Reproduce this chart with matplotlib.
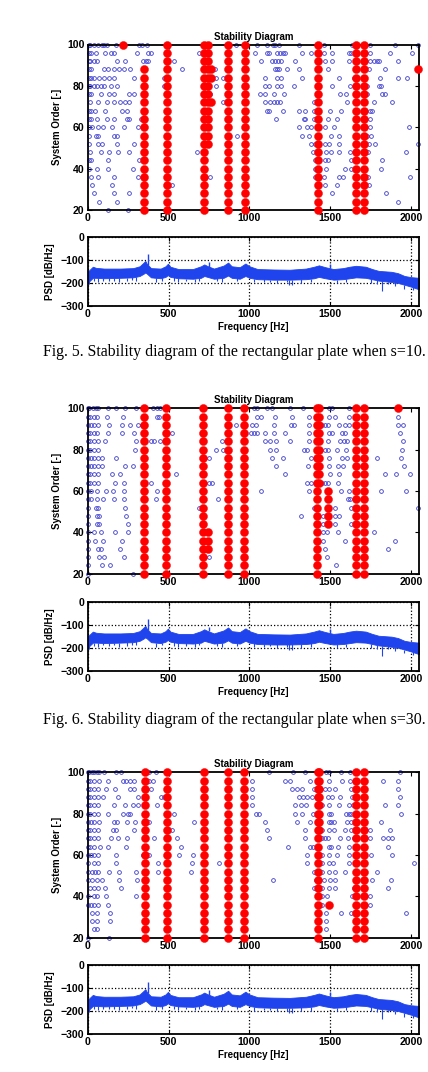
#!/usr/bin/env python3
"""Stability diagrams of the rectangular plate (s=10, s=30, s=50) with PSD strips."""

import matplotlib

matplotlib.use("Agg")

import matplotlib.pyplot as plt
import numpy as np

W, H = 428, 1072
BLUE_DOT = "#3a3ad4"
PSD_BLUE = "#1f44ee"

ORDERS = [100, 96, 92, 88, 84, 80, 76, 72, 68, 64, 60, 56, 52, 48, 44, 40, 36, 32, 28, 24, 20]

# unstable / partly stable poles (blue), one list per system order, top to bottom
S10_BLUE = [
    [4, 14, 35, 59, 84, 101, 117, 173, 317, 332, 365, 915, 1047, 1109, 1144, 1160, 1181, 1305, 1459, 1635, 1748, 1903, 2043],
    [4, 18, 49, 105, 142, 158, 301, 369, 389, 688, 1037, 1109, 1123, 1171, 1191, 1206, 1218, 1325, 1383, 1459, 1511, 1614, 1630, 1748, 1872, 2006],
    [4, 14, 35, 55, 179, 229, 338, 358, 373, 530, 1074, 1140, 1156, 1177, 1197, 1280, 1466, 1511, 1614, 1748, 1769, 1789, 1804, 1923],
    [4, 18, 97, 125, 158, 193, 224, 259, 585, 785, 1156, 1171, 1185, 1232, 1305, 1486, 1742, 1841],
    [4, 18, 39, 70, 101, 132, 163, 286, 468, 792, 839, 1098, 1171, 1197, 1325, 1556, 1645, 1810, 1923, 1975],
    [4, 14, 35, 55, 80, 101, 142, 177, 468, 792, 1094, 1123, 1171, 1197, 1274, 1511, 1624, 1727, 1800, 1816],
    [4, 18, 80, 132, 163, 255, 282, 756, 1068, 1098, 1150, 1212, 1562, 1597, 1727, 1820, 1841],
    [14, 59, 117, 158, 200, 229, 257, 839, 1098, 1129, 1150, 1171, 1191, 1397, 1604, 1769, 1882],
    [4, 18, 43, 107, 208, 241, 1109, 1123, 1206, 1305, 1346, 1397, 1501, 1569, 1748, 1762],
    [4, 18, 55, 117, 163, 241, 255, 330, 1164, 1336, 1346, 1397, 1486, 1542, 1748],
    [4, 22, 59, 90, 146, 220, 311, 1305, 1356, 1383, 1466, 1521, 1748, 1985],
    [4, 49, 64, 158, 179, 921, 1325, 1371, 1507, 1556, 1727, 1754],
    [4, 59, 84, 179, 282, 1383, 1404, 1470, 1494, 1556, 1742, 1775, 2043],
    [14, 80, 132, 187, 255, 678, 1391, 1474, 1507, 1552, 1624, 1734, 1969],
    [4, 18, 121, 317, 1404, 1466, 1486, 1630, 1820],
    [4, 55, 121, 276, 1404, 1474, 1593, 1630, 1816],
    [18, 59, 158, 311, 756, 1404, 1459, 1556, 1577, 1734, 1995],
    [22, 146, 523, 1466, 1542, 1738],
    [39, 158, 255, 1511, 1845],
    [70, 179, 1923],
    [125, 245],
]
S30_BLUE = [
    [3, 8, 29, 49, 64, 125, 173, 229, 297, 400, 426, 447, 1026, 1047, 1109, 1140, 1253, 1329, 1490, 1511, 1614],
    [3, 14, 35, 55, 117, 214, 426, 441, 1047, 1074, 1156, 1263, 1371, 1494, 1532, 1614, 1923],
    [3, 18, 39, 64, 132, 208, 262, 311, 332, 915, 1016, 1041, 1150, 1259, 1274, 1371, 1449, 1470, 1486, 1556, 1593, 1614, 1923, 1954],
    [3, 14, 35, 55, 125, 208, 282, 523, 1008, 1026, 1047, 1098, 1150, 1222, 1367, 1490, 1511, 1573, 1589, 1934],
    [3, 14, 35, 59, 105, 297, 389, 410, 447, 833, 1094, 1129, 1164, 1253, 1371, 1486, 1562, 1583, 1604, 1954],
    [3, 14, 39, 64, 290, 792, 839, 1129, 1164, 1336, 1356, 1466, 1486, 1542, 1597, 1944],
    [3, 18, 39, 59, 84, 173, 750, 1140, 1206, 1383, 1439, 1490, 1573, 1604, 1789, 1940],
    [3, 18, 39, 64, 84, 229, 276, 1164, 1362, 1439, 1490, 1548, 1577, 1960],
    [3, 14, 35, 59, 146, 200, 544, 1218, 1439, 1501, 1556, 1837, 1907, 1995],
    [3, 14, 39, 59, 167, 224, 389, 750, 765, 1356, 1383, 1449, 1470, 1486, 1548],
    [3, 18, 55, 111, 152, 220, 426, 1074, 1371, 1569, 1614, 1816, 1969],
    [3, 18, 55, 90, 158, 220, 420, 806, 1610, 1624],
    [3, 49, 64, 229, 688, 1397, 1527, 1630, 2043],
    [3, 55, 70, 235, 1321, 1453, 1532, 1556],
    [3, 55, 70, 245, 1453, 1532, 1630],
    [3, 35, 80, 167, 245, 1453, 1480, 1548, 1769],
    [3, 43, 90, 208, 1453, 1589, 1903],
    [3, 59, 80, 200, 1466, 1857],
    [3, 70, 97, 220, 750, 1480],
    [3, 84, 138, 1536],
    [3, 276],
]
S50_BLUE = [
    [3, 8, 22, 39, 55, 70, 97, 173, 204, 379, 420, 1123, 1268, 1346, 1474, 1494, 1569, 1624, 1934],
    [3, 14, 39, 70, 121, 214, 235, 262, 286, 379, 400, 1016, 1222, 1253, 1377, 1494, 1573, 1624, 1830, 1923],
    [3, 14, 39, 64, 111, 167, 262, 286, 389, 1016, 1263, 1294, 1325, 1397, 1470, 1494, 1527, 1630, 1655, 1923],
    [3, 14, 35, 59, 90, 187, 311, 455, 472, 1016, 1305, 1329, 1356, 1387, 1486, 1511, 1562, 1635, 1934],
    [3, 14, 35, 64, 158, 229, 276, 311, 426, 1016, 1284, 1321, 1350, 1449, 1494, 1556, 1614, 1639, 1837, 1923],
    [3, 14, 39, 64, 125, 214, 245, 262, 534, 1041, 1061, 1284, 1325, 1391, 1490, 1507, 1597, 1614, 1630, 1940],
    [3, 18, 39, 70, 158, 179, 241, 290, 379, 657, 1098, 1294, 1377, 1494, 1507, 1521, 1604, 1630, 1816],
    [3, 14, 35, 64, 152, 173, 282, 523, 1109, 1346, 1449, 1494, 1521, 1589, 1630, 1748, 1872],
    [3, 14, 35, 64, 142, 183, 241, 410, 554, 1119, 1346, 1449, 1466, 1486, 1562, 1610, 1645, 1748, 1824, 1861, 1882],
    [3, 14, 39, 76, 125, 235, 344, 575, 1239, 1377, 1391, 1490, 1507, 1548, 1618, 1861],
    [3, 18, 39, 64, 173, 338, 379, 565, 653, 1356, 1449, 1494, 1542, 1614, 1754, 1882],
    [3, 39, 64, 173, 435, 647, 812, 1356, 1449, 1494, 1515, 1614, 2022],
    [3, 22, 43, 64, 132, 193, 297, 435, 637, 1397, 1449, 1494, 1532, 1593, 1655, 1789],
    [3, 22, 55, 84, 193, 303, 1144, 1412, 1459, 1501, 1532, 1762, 1878],
    [14, 39, 64, 105, 204, 1397, 1449, 1490, 1532, 1645, 1861],
    [3, 35, 55, 111, 297, 1449, 1480, 1635, 1748],
    [3, 18, 39, 64, 125, 1449, 1748],
    [22, 55, 138, 1474, 1569, 1630, 1969],
    [22, 55, 138, 1474],
    [35, 55, 1474],
    [3, 132],
]

# stable poles (red): columns spanning lowest..highest order, plus isolated poles
S10_RED_FREQ = [348, 488, 719, 744, 864, 971, 1422, 1661, 1711]
S10_RED_LO = [20, 20, 20, 52, 20, 20, 20, 20, 20]
S10_RED_HI = [88, 100, 100, 100, 100, 100, 100, 100, 100]
S10_RED_PT_FREQ = [214, 762, 762, 762, 2045]
S10_RED_PT_ORDER = [100, 88, 84, 72, 88]

S30_RED_FREQ = [348, 486, 715, 864, 967, 1418, 1430, 1659, 1707]
S30_RED_LO = [20, 20, 20, 20, 20, 20, 64, 20, 20]
S30_RED_HI = [100, 100, 100, 100, 100, 100, 100, 100, 100]
S30_RED_PT_FREQ = [744, 744, 744, 1486, 1486, 1486, 1486, 1486, 1923]
S30_RED_PT_ORDER = [40, 36, 32, 60, 56, 52, 48, 44, 100]

S50_RED_FREQ = [352, 488, 719, 864, 967, 1422, 1432, 1659, 1707]
S50_RED_LO = [20, 20, 20, 20, 20, 20, 72, 20, 20]
S50_RED_HI = [100, 100, 100, 100, 100, 100, 100, 100, 100]
S50_RED_PT_FREQ = [1490]
S50_RED_PT_ORDER = [36]

PSD_FREQ = [0, 15, 30, 50, 100, 200, 280, 320, 345, 355, 365, 390, 450, 480, 495, 510, 560, 650,
            700, 720, 740, 780, 840, 868, 890, 940, 975, 1000, 1050, 1150, 1250, 1350, 1400, 1430,
            1470, 1520, 1580, 1620, 1660, 1720, 1760, 1800, 1880, 1920, 1960, 2000, 2050]
PSD_UPPER = [-150, -140, -130, -135, -138, -138, -136, -128, -112, -105, -118, -136, -138, -128,
             -117, -130, -140, -140, -128, -120, -127, -138, -125, -112, -128, -132, -116, -128,
             -140, -142, -143, -138, -130, -124, -132, -140, -136, -130, -126, -130, -140, -148,
             -152, -158, -170, -175, -178]
PSD_LOWER = [-198, -188, -178, -178, -180, -178, -176, -170, -160, -155, -160, -176, -180, -174,
             -166, -174, -180, -182, -178, -170, -174, -182, -178, -168, -178, -182, -170, -178,
             -184, -186, -186, -184, -180, -174, -180, -186, -184, -180, -176, -178, -184, -190,
             -196, -200, -208, -216, -228]
SPIKE_FREQ = [371, 748, 1500]
SPIKE_TOP = [-76, -110, -118]
DIP_FREQ = [8, 40, 60, 95, 130, 160, 190, 240, 270, 300, 420, 460, 530, 560, 610, 660, 690,
            800, 830, 920, 1030, 1090, 1130, 1170, 1230, 1245, 1262, 1320, 1380, 1540, 1600,
            1750, 1790, 1818, 1860, 1900, 1960, 2010]
DIP_BOTTOM = [-205, -192, -195, -190, -192, -190, -196, -192, -189, -190, -195, -190, -192,
              -195, -193, -197, -190, -192, -195, -192, -198, -196, -194, -200, -198, -210,
              -208, -200, -198, -200, -196, -200, -205, -235, -206, -215, -225, -232]

PANELS = [
    (S10_BLUE, S10_RED_FREQ, S10_RED_LO, S10_RED_HI, S10_RED_PT_FREQ, S10_RED_PT_ORDER),
    (S30_BLUE, S30_RED_FREQ, S30_RED_LO, S30_RED_HI, S30_RED_PT_FREQ, S30_RED_PT_ORDER),
    (S50_BLUE, S50_RED_FREQ, S50_RED_LO, S50_RED_HI, S50_RED_PT_FREQ, S50_RED_PT_ORDER),
]
CAPTIONS = [
    "Fig. 5. Stability diagram of the rectangular plate when s=10.",
    "Fig. 6. Stability diagram of the rectangular plate when s=30.",
]
# pixel boxes (left, top, right, bottom)
STAB_BOXES = [(88, 44.5, 419, 210), (88, 408.3, 419, 573.7), (88, 772.3, 419, 937.7)]
PSD_BOXES = [(88, 236.7, 419, 306), (88, 601.7, 419, 670.7), (88, 965, 419, 1034)]
CAPTION_Y = [352, 720]

plt.rcParams["font.family"] = ["Liberation Sans", "DejaVu Sans"]
plt.rcParams["font.weight"] = "bold"


def px_axes(fig, box):
    left, top, right, bottom = box
    return fig.add_axes([left / W, 1 - bottom / H, (right - left) / W, (bottom - top) / H])


def style_axes(ax):
    ax.tick_params(direction="in", top=True, right=True, length=3, width=0.8,
                   labelsize=7.6, pad=2.5)
    for label in ax.get_xticklabels() + ax.get_yticklabels():
        label.set_fontweight("bold")
    for spine in ax.spines.values():
        spine.set_linewidth(1.3)


def plot_stability(ax, blue, red_freq, red_lo, red_hi, pt_freq, pt_order):
    bx = [f for row in blue for f in row]
    by = [o for o, row in zip(ORDERS, blue) for _ in row]
    ax.plot(bx, by, "o", mfc="none", mec=BLUE_DOT, ms=2.7, mew=0.6, clip_on=False, zorder=2)
    rx, ry = [], []
    for f, lo, hi in zip(red_freq, red_lo, red_hi):
        orders = np.arange(lo, hi + 1, 4)
        rx.extend([f] * len(orders))
        ry.extend(orders)
    rx.extend(pt_freq)
    ry.extend(pt_order)
    ax.plot(rx, ry, "o", color="red", mec="red", ms=5.8, mew=0.3, clip_on=False, zorder=3)
    ax.set_xlim(0, 2050)
    ax.set_ylim(20, 100)
    ax.set_xticks([0, 500, 1000, 1500, 2000])
    ax.set_yticks([20, 40, 60, 80, 100])
    ax.set_title("Stability Diagram", fontsize=7, fontweight="bold", pad=3.5)
    ax.set_ylabel("System Order [-]", fontsize=7, fontweight="bold")
    ax.yaxis.set_label_coords(-0.08, 0.5)
    style_axes(ax)


def plot_psd(ax):
    ax.fill_between(PSD_FREQ, PSD_LOWER, PSD_UPPER, color=PSD_BLUE, lw=0.6, zorder=2)
    ax.vlines(SPIKE_FREQ, np.interp(SPIKE_FREQ, PSD_FREQ, PSD_UPPER), SPIKE_TOP,
              color=PSD_BLUE, lw=1.0, zorder=2)
    ax.vlines(DIP_FREQ, DIP_BOTTOM, np.interp(DIP_FREQ, PSD_FREQ, PSD_LOWER),
              color=PSD_BLUE, lw=0.8, zorder=2)
    ax.set_xlim(0, 2050)
    ax.set_ylim(-300, 0)
    ax.set_xticks([0, 500, 1000, 1500, 2000])
    ax.set_yticks([-300, -200, -100, 0])
    ax.grid(True, linestyle=":", color="black", linewidth=0.9, zorder=1)
    ax.set_axisbelow(True)
    ax.set_xlabel("Frequency [Hz]", fontsize=7, fontweight="bold", labelpad=2)
    ax.set_ylabel("PSD [dB/Hz]", fontsize=7, fontweight="bold")
    ax.yaxis.set_label_coords(-0.1, 0.5)
    style_axes(ax)


fig = plt.figure(figsize=(W / 100, H / 100), dpi=100)
for panel, sbox, pbox in zip(PANELS, STAB_BOXES, PSD_BOXES):
    plot_stability(px_axes(fig, sbox), *panel)
    plot_psd(px_axes(fig, pbox))

for text, y in zip(CAPTIONS, CAPTION_Y):
    fig.text(234 / W, 1 - y / H, text, family="Liberation Serif", fontsize=11.4,
             fontweight="normal", ha="center", va="center")

fig.savefig("out.png", dpi=100)
